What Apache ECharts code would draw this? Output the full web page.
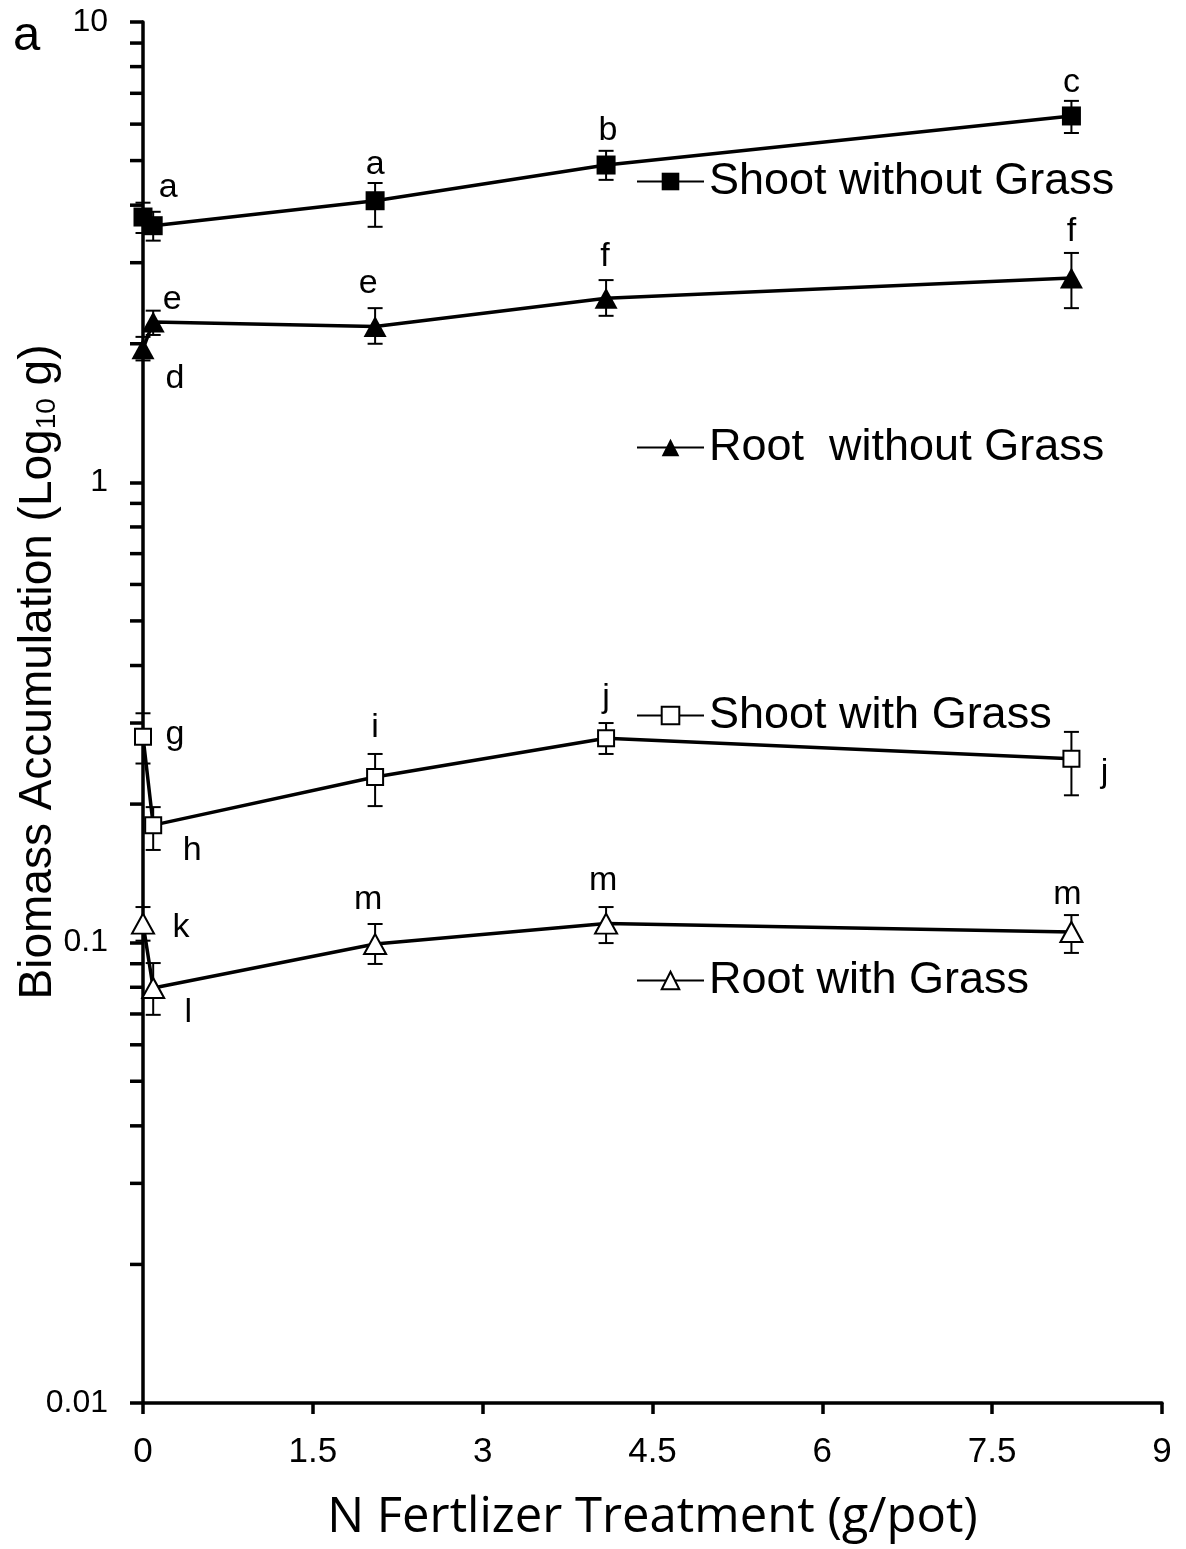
<!DOCTYPE html>
<html>
<head>
<meta charset="utf-8">
<script src="https://cdn.jsdelivr.net/npm/echarts@6/dist/echarts.min.js"></script>
<style>
  html, body { margin: 0; padding: 0; background: #fff; }
  #chart { width: 1186px; height: 1549px; }
</style>
</head>
<body>
<div id="chart"></div>
<script>
// N fertilizer applied per pot (g/pot)
const xTreat = [0, 0.09, 2.05, 4.09, 8.2];

// Biomass means (g) with lower / upper error bar ends
const shootNoGrass   = [3.77, 3.61, 4.09, 4.89, 6.25];
const shootNoGrassLo = [3.48, 3.35, 3.59, 4.54, 5.74];
const shootNoGrassHi = [4.05, 3.87, 4.47, 5.25, 6.74];

const rootNoGrass    = [1.95, 2.23, 2.18, 2.51, 2.78];
const rootNoGrassLo  = [1.84, 2.09, 2.00, 2.30, 2.39];
const rootNoGrassHi  = [2.07, 2.36, 2.39, 2.75, 3.15];

const shootGrass     = [0.280, 0.180, 0.229, 0.278, 0.251];
const shootGrassLo   = [0.245, 0.159, 0.198, 0.257, 0.209];
const shootGrassHi   = [0.315, 0.197, 0.257, 0.300, 0.287];

const rootGrass      = [0.110, 0.0797, 0.0993, 0.110, 0.1055];
const rootGrassLo    = [0.101, 0.0697, 0.0899, 0.0998, 0.0950];
const rootGrassHi    = [0.1195, 0.0903, 0.1098, 0.1195, 0.1148];

// Significance letters
const shootNoGrassLetters = ['', 'a', 'a', 'b', 'c'];
const rootNoGrassLetters  = ['d', 'e', 'e', 'f', 'f'];
const shootGrassLetters   = ['g', 'h', 'i', 'j', 'j'];
const rootGrassLetters    = ['k', 'l', 'm', 'm', 'm'];

// Series names
const seriesNames = ['Shoot without Grass', 'Root  without Grass', 'Shoot with Grass', 'Root with Grass'];

// Axis texts
const yTickLabels = ['0.01', '0.1', '1', '10'];
const xTitle = 'N Fertlizer Treatment (g/pot)';
const yTitle = 'Biomass Accumulation (Log{sub|10} g)';

// Letter placement relative to each marker (px)
const shootNoGrassLabelOffset = [[0, 0], [15, -38], [0, -36], [2, -34], [0, -33]];
const rootNoGrassLabelOffset  = [[32, 30], [19, -22], [-7, -43], [-1, -42], [0, -46]];
const shootGrassLabelOffset   = [[32, -2], [39, 25], [0, -49], [0, -41], [33, 14]];
const rootGrassLabelOffset    = [[38, 4], [35, 25], [-7, -44], [-3, -43], [-4, -37]];

const ARIAL = '"Liberation Sans", Arial, sans-serif';
const HUMANIST = '"Open Sans", Lato, sans-serif';

// Minor log ticks between decades
const minorTickVals = [];
[0.01, 0.1, 1].forEach(function (d) {
  for (let k = 2; k <= 9; k++) minorTickVals.push(+(k * d).toPrecision(3));
});

function lineSeries(name, vals, letters, offsets, symbol, size, filled) {
  return {
    type: 'line',
    name: name,
    z: 4,
    clip: false,
    symbol: symbol,
    symbolSize: size,
    showAllSymbol: true,
    itemStyle: { color: filled ? '#000' : '#fff', borderColor: '#000', borderWidth: filled ? 0 : 2 },
    lineStyle: { color: '#000', width: 3.5 },
    emphasis: { disabled: true },
    data: xTreat.map(function (x, i) {
      return {
        value: [x, vals[i]],
        label: {
          show: !!letters[i],
          formatter: letters[i],
          position: 'inside',
          offset: offsets[i],
          fontSize: 34,
          fontFamily: ARIAL,
          color: '#000'
        }
      };
    })
  };
}

function errorSeries(lo, hi) {
  return {
    type: 'custom',
    z: 3,
    silent: true,
    clip: false,
    data: xTreat.map(function (x, i) { return [x, lo[i], hi[i]]; }),
    encode: { x: 0, y: [1, 2] },
    renderItem: function (params, api) {
      const top = api.coord([api.value(0), api.value(2)]);
      const bot = api.coord([api.value(0), api.value(1)]);
      const cw = 7.5;
      const st = { stroke: '#000', lineWidth: 2 };
      return {
        type: 'group',
        children: [
          { type: 'line', shape: { x1: top[0], y1: top[1], x2: bot[0], y2: bot[1] }, style: st },
          { type: 'line', shape: { x1: top[0] - cw, y1: top[1], x2: top[0] + cw, y2: top[1] }, style: st },
          { type: 'line', shape: { x1: bot[0] - cw, y1: bot[1], x2: bot[0] + cw, y2: bot[1] }, style: st }
        ]
      };
    }
  };
}

const minorTickSeries = {
  type: 'custom',
  z: 1,
  silent: true,
  clip: false,
  data: minorTickVals.map(function (v) { return [0, v]; }),
  renderItem: function (params, api) {
    const p = api.coord([0, api.value(1)]);
    return {
      type: 'line',
      shape: { x1: p[0] - 13, y1: p[1], x2: p[0], y2: p[1] },
      style: { stroke: '#000', lineWidth: 3.5 }
    };
  }
};

const legendCenters = [178, 444, 712, 977];
const legends = seriesNames.map(function (n, i) {
  return {
    data: [n],
    left: 636,
    top: legendCenters[i] - 19,
    padding: 0,
    itemWidth: 67,
    itemHeight: 22,
    itemGap: 0,
    selectedMode: false,
    textStyle: { fontSize: 45, fontFamily: ARIAL, color: '#000' }
  };
});

const chart = echarts.init(document.getElementById('chart'), null, { renderer: 'canvas' });
chart.setOption({
  animation: false,
  backgroundColor: '#fff',
  grid: { left: 143, right: 24, top: 22, bottom: 146, containLabel: false, outerBoundsMode: 'none' },
  legend: legends,
  graphic: [
    { type: 'text', left: 13, top: 12, style: { text: 'a', font: '49px ' + ARIAL, fill: '#000' } },
    {
      type: 'text',
      x: 38,
      y: 672,
      rotation: Math.PI / 2,
      style: {
        text: yTitle,
        font: '46px ' + ARIAL,
        fill: '#000',
        align: 'center',
        verticalAlign: 'middle',
        rich: { sub: { fontSize: 28, fontFamily: ARIAL, fill: '#000', verticalAlign: 'bottom' } }
      }
    }
  ],
  xAxis: {
    type: 'value',
    min: 0,
    max: 9,
    interval: 1.5,
    name: xTitle,
    nameLocation: 'middle',
    nameGap: 91,
    nameTextStyle: { fontSize: 49, fontFamily: HUMANIST, color: '#000' },
    axisLine: { lineStyle: { color: '#000', width: 3.5 } },
    axisTick: { show: true, length: 11, lineStyle: { color: '#000', width: 3.5 } },
    axisLabel: { fontSize: 35, fontFamily: ARIAL, color: '#000', margin: 32 },
    splitLine: { show: false }
  },
  yAxis: {
    type: 'log',
    logBase: 10,
    min: 0.01,
    max: 10,
    axisLine: { show: true, lineStyle: { color: '#000', width: 3.5 } },
    axisTick: { show: true, length: 13, lineStyle: { color: '#000', width: 3.5 } },
    axisLabel: {
      fontSize: 32, fontFamily: ARIAL, color: '#000', margin: 35,
      formatter: function (v) { return yTickLabels[Math.round(Math.log10(v)) + 2]; }
    },
    splitLine: { show: false }
  },
  series: [
    minorTickSeries,
    errorSeries(shootNoGrassLo, shootNoGrassHi),
    errorSeries(rootNoGrassLo, rootNoGrassHi),
    errorSeries(shootGrassLo, shootGrassHi),
    errorSeries(rootGrassLo, rootGrassHi),
    lineSeries(seriesNames[0], shootNoGrass, shootNoGrassLetters, shootNoGrassLabelOffset, 'rect', 19, true),
    lineSeries(seriesNames[1], rootNoGrass, rootNoGrassLetters, rootNoGrassLabelOffset, 'triangle', [23, 21], true),
    lineSeries(seriesNames[2], shootGrass, shootGrassLetters, shootGrassLabelOffset, 'rect', 16, false),
    lineSeries(seriesNames[3], rootGrass, rootGrassLetters, rootGrassLabelOffset, 'triangle', [22, 20], false)
  ]
});
</script>
</body>
</html>
